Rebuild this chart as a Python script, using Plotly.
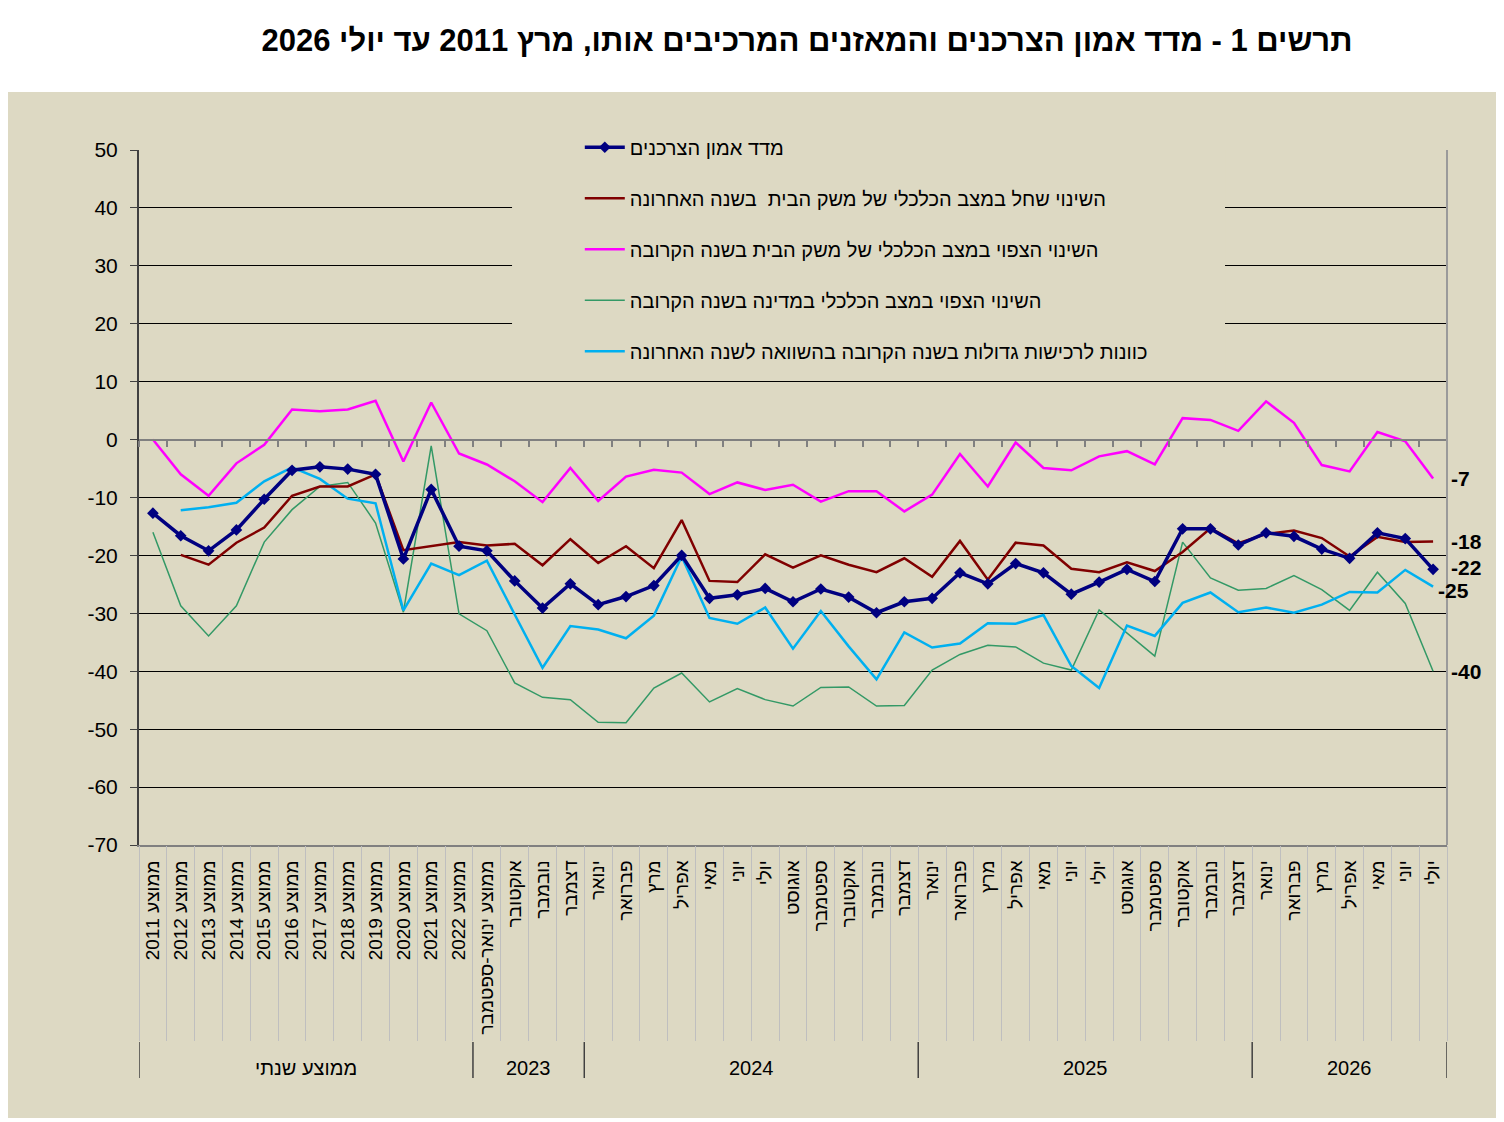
import plotly.graph_objects as go

# ---------------- data ----------------
months = ["ינואר", "פברואר", "מרץ", "אפריל", "מאי", "יוני", "יולי",
          "אוגוסט", "ספטמבר", "אוקטובר", "נובמבר", "דצמבר"]
categories = ([f"ממוצע {y}" for y in range(2011, 2023)]
              + ["ממוצע ינואר-ספטמבר", "אוקטובר", "נובמבר", "דצמבר"]
              + months + months + months[:7])

groups = ["ממוצע שנתי", "2023", "2024", "2025", "2026"]
group_sizes = [12, 4, 12, 12, 7]

confidence_index = [
    -12.7, -16.6, -19.2, -15.6, -10.3, -5.3, -4.7, -5.1, -6.0, -20.6, -8.6, -18.4,
    -19.2, -24.4, -29.1, -24.9,
    -28.5, -27.1, -25.2, -20.0, -27.4, -26.8, -25.7, -28.0, -25.8, -27.2, -29.9, -28.0,
    -27.4, -23.0, -24.9, -21.4, -23.0, -26.7, -24.6, -22.4, -24.5, -15.4, -15.4, -18.2,
    -16.1, -16.7, -18.9, -20.5, -16.1, -17.1, -22.4]

past_household = [
    None, -19.9, -21.6, -17.8, -15.2, -9.7, -8.1, -8.1, -6.0, -19.1, -18.4, -17.7,
    -18.3, -18.0, -21.7, -17.2,
    -21.3, -18.4, -22.2, -13.9, -24.4, -24.6, -19.8, -22.1, -20.0, -21.6, -22.9, -20.5,
    -23.7, -17.5, -24.2, -17.8, -18.3, -22.3, -22.9, -21.2, -22.7, -19.4, -15.3, -17.9,
    -16.3, -15.7, -17.0, -20.2, -16.8, -17.7, -17.6]

expected_household = [
    0.0, -6.0, -9.7, -4.1, -0.9, 5.2, 4.9, 5.2, 6.7, -3.8, 6.4, -2.4,
    -4.3, -7.2, -10.8, -4.9,
    -10.6, -6.4, -5.2, -5.7, -9.4, -7.4, -8.7, -7.8, -10.7, -8.9, -8.9, -12.4,
    -9.5, -2.5, -8.1, -0.5, -4.9, -5.3, -2.9, -2.0, -4.3, 3.7, 3.4, 1.5,
    6.6, 2.9, -4.4, -5.5, 1.3, -0.3, -6.7]

expected_country = [
    -16.0, -28.7, -33.9, -28.7, -17.7, -12.1, -8.1, -7.4, -14.4, -29.8, -1.1, -30.1,
    -33.0, -42.0, -44.5, -44.9,
    -48.8, -48.9, -42.9, -40.3, -45.3, -43.0, -44.9, -46.0, -42.8, -42.7, -46.0, -45.9,
    -39.8, -37.1, -35.5, -35.8, -38.6, -39.8, -29.4, -33.4, -37.4, -17.7, -23.9, -26.0,
    -25.7, -23.5, -25.9, -29.5, -22.9, -28.3, -40.0]

big_purchases = [
    None, -12.2, -11.7, -10.9, -7.2, -4.8, -6.8, -10.2, -11.0, -29.5, -21.4, -23.4,
    -20.9, -30.2, -39.4, -32.2,
    -32.8, -34.3, -30.4, -20.2, -30.8, -31.8, -29.0, -36.1, -29.6, -35.7, -41.4, -33.3,
    -35.9, -35.2, -31.7, -31.8, -30.3, -39.1, -42.9, -32.1, -33.9, -28.2, -26.4, -29.8,
    -29.0, -29.9, -28.5, -26.3, -26.4, -22.5, -25.4]

series_names = [
    "מדד אמון הצרכנים",
    "השינוי שחל במצב הכלכלי של משק הבית  בשנה האחרונה",
    "השינוי הצפוי במצב הכלכלי של משק הבית בשנה הקרובה",
    "השינוי הצפוי במצב הכלכלי במדינה בשנה הקרובה",
    "כוונות לרכישות גדולות בשנה הקרובה בהשוואה לשנה האחרונה",
]

y_ticks = list(range(50, -80, -10))
y_min, y_max = -70, 50

title_text = "תרשים 1 - מדד אמון הצרכנים והמאזנים המרכיבים אותו, מרץ 2011 עד יולי 2026"

# ---------------- figure ----------------
FONT = "Liberation Sans, Arial, sans-serif"
TAN = "#DDD9C3"
PLOT_BG = "#EEECE1"
W, H = 1496, 1114   # page body has an 8px margin

n = len(categories)
xs = list(range(n))
bounds = [i - 0.5 for i in range(n + 1)]

fig = go.Figure()

styles = [
    dict(color="#000080", width=3.5),
    dict(color="#800000", width=2.5),
    dict(color="#FF00FF", width=2.5),
    dict(color="#339966", width=1.5),
    dict(color="#00B0F0", width=2.5),
]
data = [confidence_index, past_household, expected_household, expected_country, big_purchases]
draw_order = [3, 4, 2, 1, 0]
for k in draw_order:
    fig.add_trace(go.Scatter(
        x=xs, y=data[k], name=series_names[k],
        mode="lines+markers" if k == 0 else "lines",
        line=styles[k],
        marker=dict(symbol="diamond", size=9, color="#000080") if k == 0 else None,
        legendrank=k + 1, legendgroup=f"g{k}",
        connectgaps=False, hoverinfo="x+y",
    ))

# helper traces for the extra axes (zero-line axis and label-area separators)
fig.add_trace(go.Scatter(x=[None], y=[None], xaxis="x2", showlegend=False, hoverinfo="skip"))
fig.add_trace(go.Scatter(x=[None], y=[None], xaxis="x3", showlegend=False, hoverinfo="skip"))

# end-of-line value labels
label_shift = {0: (16, -2), 1: (16, 0), 2: (16, 0), 3: (16, 0), 4: (3, 4)}
for k in [2, 1, 0, 4, 3]:
    v = data[k][-1]
    dx, dy = label_shift[k]
    fig.add_annotation(
        x=xs[-1], y=v, xref="x", yref="y", text=f"<b>{v:.0f}</b>",
        showarrow=False, xanchor="left", yanchor="middle",
        xshift=dx, yshift=-dy,
        font=dict(family=FONT, size=21, color="black"),
    )

# group labels and separators below the category labels
start = 0
group_bounds = [-0.5]
for g, s in zip(groups, group_sizes):
    fig.add_annotation(
        x=start + (s - 1) / 2, y=-0.321, xref="x", yref="paper", text=g,
        showarrow=False, xanchor="center", yanchor="middle",
        font=dict(family=FONT, size=20, color="black"),
    )
    start += s
    group_bounds.append(start - 0.5)
for b in group_bounds:
    fig.add_shape(type="line", xref="x", yref="paper", x0=b, x1=b, y0=-0.2835, y1=-0.3353,
                  line=dict(color="#404040", width=1.5))

# outer tan frame
fig.add_shape(type="rect", xref="paper", yref="paper", x0=-0.1002, x1=1.0375, y0=-0.3928, y1=1.0835,
              fillcolor=TAN, line=dict(width=0), layer="below")
# legend box
fig.add_shape(type="rect", xref="paper", yref="paper", x0=0.2852, x1=0.8303, y0=0.6806, y1=1.0,
              fillcolor=TAN, line=dict(width=0), layer="above")
# right border of plot area
fig.add_shape(type="line", xref="paper", yref="paper", x0=1, x1=1, y0=0, y1=1,
              line=dict(color="#9A9A9A", width=2))

fig.update_layout(
    width=W, height=H,
    margin=dict(l=131, r=57, t=142, b=277),
    paper_bgcolor="white", plot_bgcolor=PLOT_BG,
    font=dict(family=FONT, color="black"),
    title=dict(text=f"<b>{title_text}</b>", x=799 / W, xref="container", xanchor="center",
               y=1 - 32 / H, yref="container", yanchor="middle",
               font=dict(family=FONT, size=31, color="black")),
    showlegend=True,
    legend=dict(x=0.337, y=1.032, xanchor="left", yanchor="top", bgcolor="rgba(0,0,0,0)",
                traceorder="grouped", tracegroupgap=22, itemwidth=40,
                font=dict(family=FONT, size=20, color="black")),
    xaxis=dict(range=[-0.5, n - 0.5], tickmode="array", tickvals=xs, ticktext=categories,
               tickangle=-90, tickfont=dict(family=FONT, size=19, color="black"),
               showgrid=False, zeroline=False, showline=True, linecolor="#808080", linewidth=1.5,
               ticks="", ticklabelstandoff=6),
    xaxis2=dict(overlaying="x", anchor="free", position=(0 - y_min) / (y_max - y_min),
                range=[-0.5, n - 0.5], tickmode="array", tickvals=bounds, showticklabels=False,
                ticks="outside", ticklen=6, tickcolor="#808080", tickwidth=1.5,
                showgrid=False, zeroline=False, showline=True, linecolor="#808080", linewidth=2),
    xaxis3=dict(overlaying="x", anchor="y", range=[-0.5, n - 0.5], tickmode="array",
                tickvals=bounds, showticklabels=False, ticks="outside", ticklen=195,
                tickcolor="#BFBFBF", tickwidth=1, showgrid=False, zeroline=False, showline=False),
    yaxis=dict(range=[y_min, y_max], tickmode="array", tickvals=y_ticks,
               ticktext=[str(t) for t in y_ticks],
               tickfont=dict(family=FONT, size=21, color="black"),
               showgrid=True, gridcolor="black", gridwidth=1, zeroline=False,
               showline=True, linecolor="#404040", linewidth=2,
               ticks="outside", ticklen=7, tickcolor="#404040", ticklabelstandoff=8),
)

fig.write_html("out.html")
